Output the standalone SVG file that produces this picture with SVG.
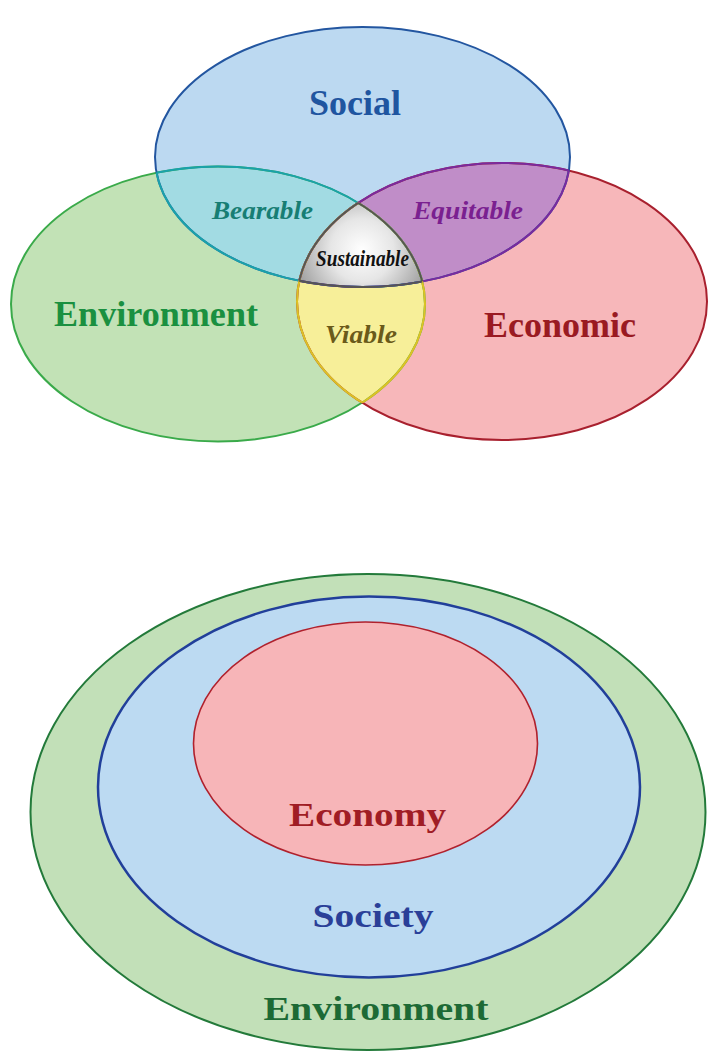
<svg xmlns="http://www.w3.org/2000/svg" xmlns:xlink="http://www.w3.org/1999/xlink" width="708" height="1052" viewBox="0 0 708 1052">
<style>
.lbl{font-family:"Liberation Serif","Times New Roman",serif;font-weight:bold;text-anchor:middle}
.it{font-style:italic}
.sw{fill:none;stroke-width:2}
</style>
<defs>
<ellipse id="eS" cx="362.5" cy="157" rx="207.5" ry="130"/>
<ellipse id="eE" cx="218" cy="304" rx="207" ry="137.5"/>
<ellipse id="eC" cx="502" cy="301.5" rx="205" ry="138.5"/>
<clipPath id="cS"><use xlink:href="#eS"/></clipPath>
<clipPath id="cE"><use xlink:href="#eE"/></clipPath>
<clipPath id="cC"><use xlink:href="#eC"/></clipPath>
<radialGradient id="gSus" cx="362" cy="250" r="70" gradientUnits="userSpaceOnUse">
<stop offset="0" stop-color="#ffffff"/>
<stop offset="0.45" stop-color="#e6e6e6"/>
<stop offset="1" stop-color="#9c9c9c"/>
</radialGradient>
</defs>
<rect width="708" height="1052" fill="#ffffff"/>

<!-- Venn fills -->
<g id="environment">
<use xlink:href="#eE" fill="#c2e2b6"/>
</g>
<g id="economic">
<use xlink:href="#eC" fill="#f7b7ba"/>
</g>
<g id="social">
<use xlink:href="#eS" fill="#bcd9f1"/>
</g>
<g id="bearable">
<use xlink:href="#eE" fill="#a2dbe3" clip-path="url(#cS)"/>
</g>
<g id="equitable">
<use xlink:href="#eC" fill="#c08dc8" clip-path="url(#cS)"/>
</g>
<g id="viable">
<use xlink:href="#eC" fill="#f7ef99" clip-path="url(#cE)"/>
</g>
<g id="sustainable">
<g clip-path="url(#cE)"><use xlink:href="#eC" fill="url(#gSus)" clip-path="url(#cS)"/></g>
</g>

<!-- Venn outlines -->
<g id="outlines">
<use xlink:href="#eE" class="sw" stroke="#3aaa4a"/>
<use xlink:href="#eC" class="sw" stroke="#a8202e"/>
<use xlink:href="#eS" class="sw" stroke="#2356a0"/>
<use xlink:href="#eE" class="sw" stroke="#1aa2aa" clip-path="url(#cS)"/>
<use xlink:href="#eS" class="sw" stroke="#1aa2aa" clip-path="url(#cE)"/>
<use xlink:href="#eC" class="sw" stroke="#7a2a9e" clip-path="url(#cS)"/>
<use xlink:href="#eS" class="sw" stroke="#7a2a9e" clip-path="url(#cC)"/>
<use xlink:href="#eE" class="sw" stroke="#dcc224" clip-path="url(#cC)"/>
<use xlink:href="#eC" class="sw" stroke="#dcc224" clip-path="url(#cE)"/>
<g clip-path="url(#cS)"><use xlink:href="#eE" class="sw" stroke="#555555" clip-path="url(#cC)"/></g>
<g clip-path="url(#cS)"><use xlink:href="#eC" class="sw" stroke="#555555" clip-path="url(#cE)"/></g>
<g clip-path="url(#cE)"><use xlink:href="#eS" class="sw" stroke="#555555" clip-path="url(#cC)"/></g>
</g>

<!-- Venn labels -->
<g id="venn-labels">
<text class="lbl" x="355" y="115" font-size="36" fill="#1f55a0">Social</text>
<text class="lbl" x="156" y="325.5" font-size="36" fill="#1a9040" textLength="204" lengthAdjust="spacingAndGlyphs">Environment</text>
<text class="lbl" x="560" y="336.5" font-size="36" fill="#9a1a22" textLength="152" lengthAdjust="spacingAndGlyphs">Economic</text>
<text class="lbl it" x="262.5" y="219" font-size="25" fill="#177e74" textLength="101" lengthAdjust="spacingAndGlyphs">Bearable</text>
<text class="lbl it" x="468" y="219" font-size="25" fill="#7a2090" textLength="110" lengthAdjust="spacingAndGlyphs">Equitable</text>
<text class="lbl it" x="362.5" y="266" font-size="23" fill="#111111" textLength="93" lengthAdjust="spacingAndGlyphs">Sustainable</text>
<text class="lbl it" x="361" y="343" font-size="25" fill="#6a5a1a" textLength="72" lengthAdjust="spacingAndGlyphs">Viable</text>
</g>

<!-- Nested diagram -->
<g id="environment-outer">
<ellipse cx="368" cy="812" rx="337.5" ry="238" fill="#c2e0b8" stroke="#237a3a" stroke-width="2"/>
<text class="lbl" x="376" y="1020" font-size="34" fill="#1d6a35" textLength="225" lengthAdjust="spacingAndGlyphs">Environment</text>
</g>
<g id="society">
<ellipse cx="369" cy="787" rx="271" ry="190.5" fill="#bcdaf2" stroke="#213f9a" stroke-width="2.5"/>
<text class="lbl" x="373" y="927" font-size="34" fill="#2a3f98" textLength="121" lengthAdjust="spacingAndGlyphs">Society</text>
</g>
<g id="economy">
<ellipse cx="365.5" cy="743.5" rx="172" ry="121.5" fill="#f7b5b8" stroke="#b0212d" stroke-width="1.6"/>
<text class="lbl" x="367.5" y="826" font-size="34" fill="#a01d25" textLength="157" lengthAdjust="spacingAndGlyphs">Economy</text>
</g>
</svg>
